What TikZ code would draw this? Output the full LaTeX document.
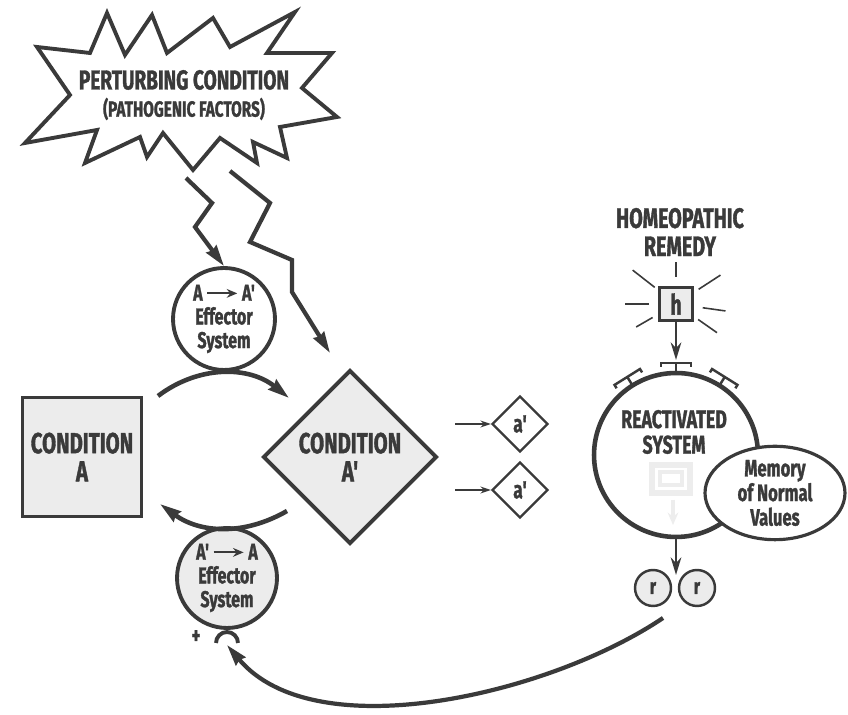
\documentclass[tikz,border=0pt]{standalone}
\usepackage{fontspec}
\newfontfamily\lab{Fira Sans}[FakeStretch=0.7, BoldFeatures={FakeBold=1.2}]
\usepackage{tikz}
\usetikzlibrary{shapes,arrows,arrows.meta}
\definecolor{ink}{HTML}{3A3A3A}
\definecolor{shade}{HTML}{ECECEC}
\newcommand{\lsize}[2]{\fontsize{#1}{#2}\selectfont}
\newcommand{\effarrow}{\tikz[baseline=-0.6ex]\draw[ink,line width=1.1pt,-{Stealth[length=6pt,width=5pt]}] (0pt,0pt) -- (17pt,0pt);}

\begin{document}
\begin{tikzpicture}[x=0.02cm, y=0.02cm,
  lbl/.style={font=\lab\bfseries, text=ink, align=center, inner sep=0},
  edge/.style={draw=ink, line width=2.2pt},
  tip/.style={-{Stealth[length=12pt,width=7pt,inset=1pt]}}]
\useasboundingbox (0,0) rectangle (848,715);
\draw[edge, fill=white] (37,668) -- (90,662) -- (107,702) -- (125,660) -- (152,700) -- (167,662) -- (213,697) -- (230,668) -- (295,703) -- (267,662) -- (332,662) -- (302,627) -- (337,598) -- (280,588) -- (287,557) -- (253,573) -- (257,552) -- (220,577) -- (193,545) -- (163,582) -- (147,558) -- (140,578) -- (85,552) -- (97,585) -- (25,572) -- (70,620) -- cycle;
\node[lbl, font=\lab\bfseries\lsize{15.5}{16}] (burst) at (184,635) {PERTURBING CONDITION};
\node[lbl, font=\lab\bfseries\lsize{12.5}{12}] (burstsub) at (184,606) {(PATHOGENIC FACTORS)};
\node[circle, edge, fill=white, minimum size=2.04cm, lbl, font=\lab\bfseries\lsize{13}{13.5}] (effA) at (224,396) {A\,\effarrow\,A'\\Effector\\System};
\node[rectangle, edge, fill=shade, minimum size=2.38cm, lbl, font=\lab\bfseries\lsize{16.5}{16}] (condA) at (82,258) {CONDITION\\A};
\node[diamond, edge, fill=shade, minimum size=3.48cm, lbl, font=\lab\bfseries\lsize{16.5}{16}] (condB) at (350,258) {CONDITION\\A'};
\node[circle, edge, fill=shade, minimum size=2cm, lbl, font=\lab\bfseries\lsize{13}{13.5}] (effB) at (227,137) {A'\,\effarrow\,A\\Effector\\System};
\node[lbl, font=\lab\bfseries\lsize{14}{14}] (plus) at (196,78) {+};
\node[diamond, draw=ink, line width=1.3pt, minimum size=1.12cm, lbl, font=\lab\bfseries\lsize{14}{14}] (aprime1) at (520,291) {a'};
\node[diamond, draw=ink, line width=1.3pt, minimum size=1.12cm, lbl, font=\lab\bfseries\lsize{14}{14}] (aprime2) at (520,225) {a'};
\node[lbl, font=\lab\bfseries\lsize{16}{16}] (remedy) at (680,483) {HOMEOPATHIC\\REMEDY};
\node[rectangle, draw=ink, line width=1.4pt, fill=shade, minimum size=0.66cm, lbl, font=\lab\bfseries\lsize{16}{16}] (hbox) at (676,411) {h};
\node[circle, edge, line width=2.6pt, fill=white, minimum size=3.28cm] (sysR) at (676,260) {};
\node[lbl, font=\lab\bfseries\lsize{14.5}{14.5}] (sysRtext) at (674,283) {REACTIVATED\\SYSTEM};
\draw[gray!14, line width=3pt] (652,222) rectangle (690,250);
\draw[gray!14, line width=2pt] (660,230) rectangle (682,243);
\draw[gray!14, line width=2.5pt, -{Stealth[length=7pt,width=6pt]}] (673,215) -- (673,190);
\node[ellipse, draw=ink, line width=1.8pt, fill=white, minimum width=2.8cm, minimum height=1.6cm, lbl, font=\lab\bfseries\lsize{13.5}{14}] (memory) at (775,222) {Memory\\of Normal\\Values};
\node[circle, draw=ink, line width=1.4pt, fill=shade, minimum size=0.72cm, lbl, font=\lab\bfseries\lsize{12.5}{12}] (r1) at (653,127) {r};
\node[circle, draw=ink, line width=1.4pt, fill=shade, minimum size=0.72cm, lbl, font=\lab\bfseries\lsize{12.5}{12}] (r2) at (697,127) {r};
\coordinate (zl) at (186,537);
\coordinate (zr) at (230,544);
\coordinate (zrend) at (330,362);
\coordinate (aul) at (158,319);
\coordinate (aur) at (289,317);
\coordinate (abr) at (287,204);
\coordinate (abl) at (160,211);
\coordinate (in1) at (455,291);
\coordinate (in2) at (455,225);
\coordinate (rtop) at (676,355);
\coordinate (rsplit) at (676,140);
\coordinate (rback) at (663,97);
\coordinate (rcpt) at (227,70);
\draw[ink, line width=2.4pt, tip] (zl) -- (212,512) -- (195,488) -- (effA.north);
\draw[ink, line width=2.4pt, tip] (zr) -- (270,512) -- (250,473) -- (292,455) -- (292,423) -- (zrend);
\draw[ink, line width=2.6pt, tip] (aul) to[bend left=38] (aur);
\draw[ink, line width=2.6pt, tip] (abr) to[bend left=33] (abl);
\draw[ink, line width=2.2pt] (216,72) arc[start angle=180, end angle=0, radius=11];
\draw[ink, line width=2.4pt, tip] (rback) to[out=214, in=-50, looseness=0.8] (rcpt);
\draw[ink, line width=0.8pt, -{Stealth[length=6pt,width=4pt]}] (in1) -- (aprime1);
\draw[ink, line width=0.8pt, -{Stealth[length=6pt,width=4pt]}] (in2) -- (aprime2);
\foreach \a/\r in {90/42,142/55,180/51,210/46,33/53,-8/50,-35/50}
\draw[ink, line width=0.9pt] ([shift={(\a:27)}]hbox.center) -- ([shift={(\a:\r)}]hbox.center);
\foreach \a in {58,90,122}
{
\begin{scope}[shift={(sysR.center)}, rotate=\a-90]
\draw[ink, line width=1.4pt] (0,82) -- (0,92) (-15,88) -- (-15,92) -- (15,92) -- (15,88);
\end{scope}
}
\draw[ink, line width=1.6pt, -{Stealth[length=10pt,width=6pt]}] (hbox) -- (rtop);
\draw[ink, line width=1.6pt, -{Stealth[length=10pt,width=6pt]}] (sysR) -- (rsplit);
\end{tikzpicture}
\end{document}
